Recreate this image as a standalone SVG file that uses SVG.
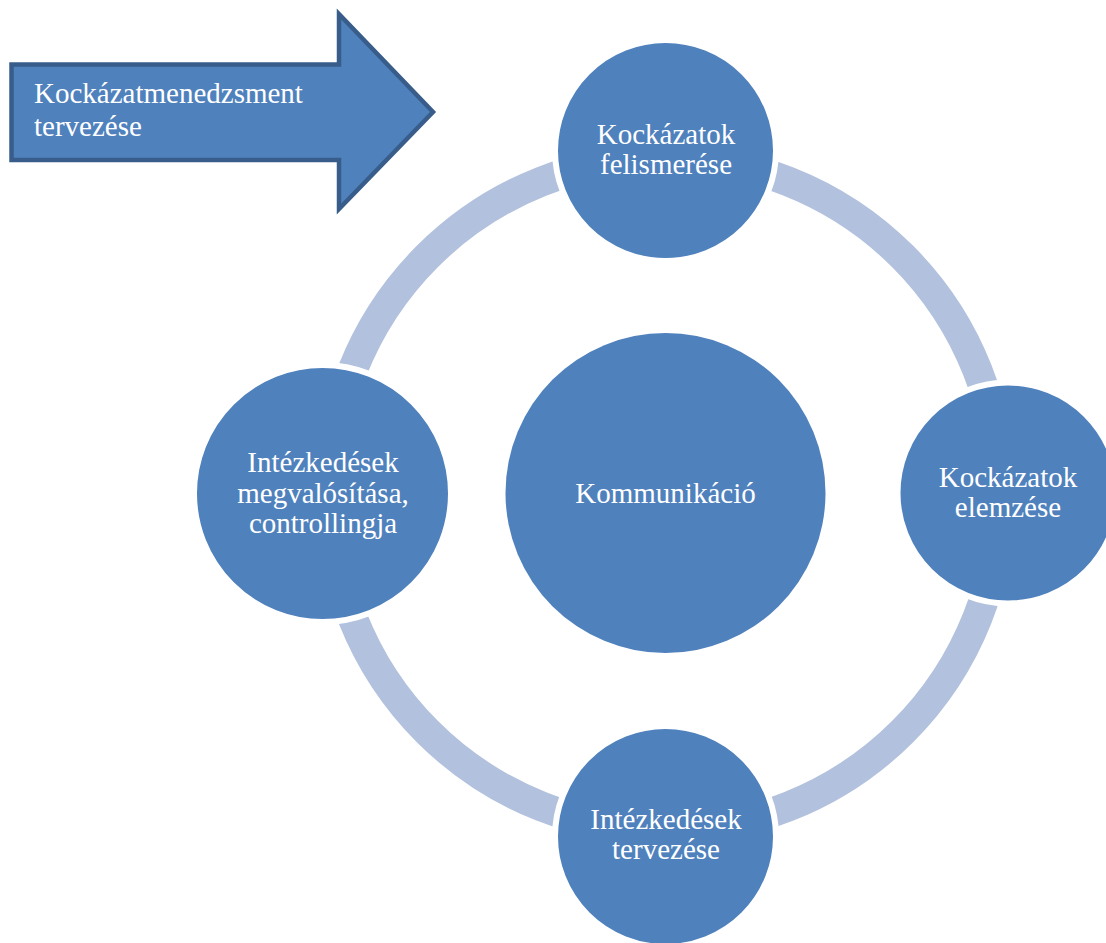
<svg xmlns="http://www.w3.org/2000/svg" width="1106" height="943" viewBox="0 0 1106 943">
  <style>
    .node { fill: #4f81bd; stroke: #ffffff; stroke-width: 6; }
    .lbl { font-family: "Liberation Serif", "Times New Roman", serif; font-size: 29px; fill: #ffffff; text-anchor: middle; }
    .albl { font-family: "Liberation Serif", "Times New Roman", serif; font-size: 29px; fill: #ffffff; }
  </style>
  <rect width="1106" height="943" fill="#ffffff"/>
  <g id="connectors">
    <circle cx="665" cy="494" r="336" fill="none" stroke="#b2c1dd" stroke-width="30"/>
  </g>
  <g id="node-center">
    <circle cx="665.5" cy="493" r="160" fill="#4f81bd"/>
    <text class="lbl" x="665.5" y="503">Kommunikáció</text>
  </g>
  <g id="node-top">
    <circle class="node" cx="665.5" cy="150.5" r="110.5"/>
    <text class="lbl" x="666" y="144">Kockázatok</text>
    <text class="lbl" x="666" y="174">felismerése</text>
  </g>
  <g id="node-right">
    <circle class="node" cx="1008" cy="493" r="110.5"/>
    <text class="lbl" x="1008" y="487">Kockázatok</text>
    <text class="lbl" x="1008" y="517">elemzése</text>
  </g>
  <g id="node-bottom">
    <circle class="node" cx="665.5" cy="836.5" r="110.5"/>
    <text class="lbl" x="666" y="829">Intézkedések</text>
    <text class="lbl" x="666" y="859">tervezése</text>
  </g>
  <g id="node-left">
    <circle class="node" cx="322.5" cy="493.5" r="128.5"/>
    <text class="lbl" x="323" y="472">Intézkedések</text>
    <text class="lbl" x="323" y="503">megvalósítása,</text>
    <text class="lbl" x="323" y="533">controllingja</text>
  </g>
  <g id="node-arrow">
    <polygon points="11.5,64.5 339,64.5 339,14 433,112 339,209 339,160 11.5,160" fill="#4f81bd" stroke="#385d8a" stroke-width="4.5" stroke-linejoin="miter"/>
    <text class="albl" x="34" y="103">Kockázatmenedzsment</text>
    <text class="albl" x="34" y="136">tervezése</text>
  </g>
</svg>
